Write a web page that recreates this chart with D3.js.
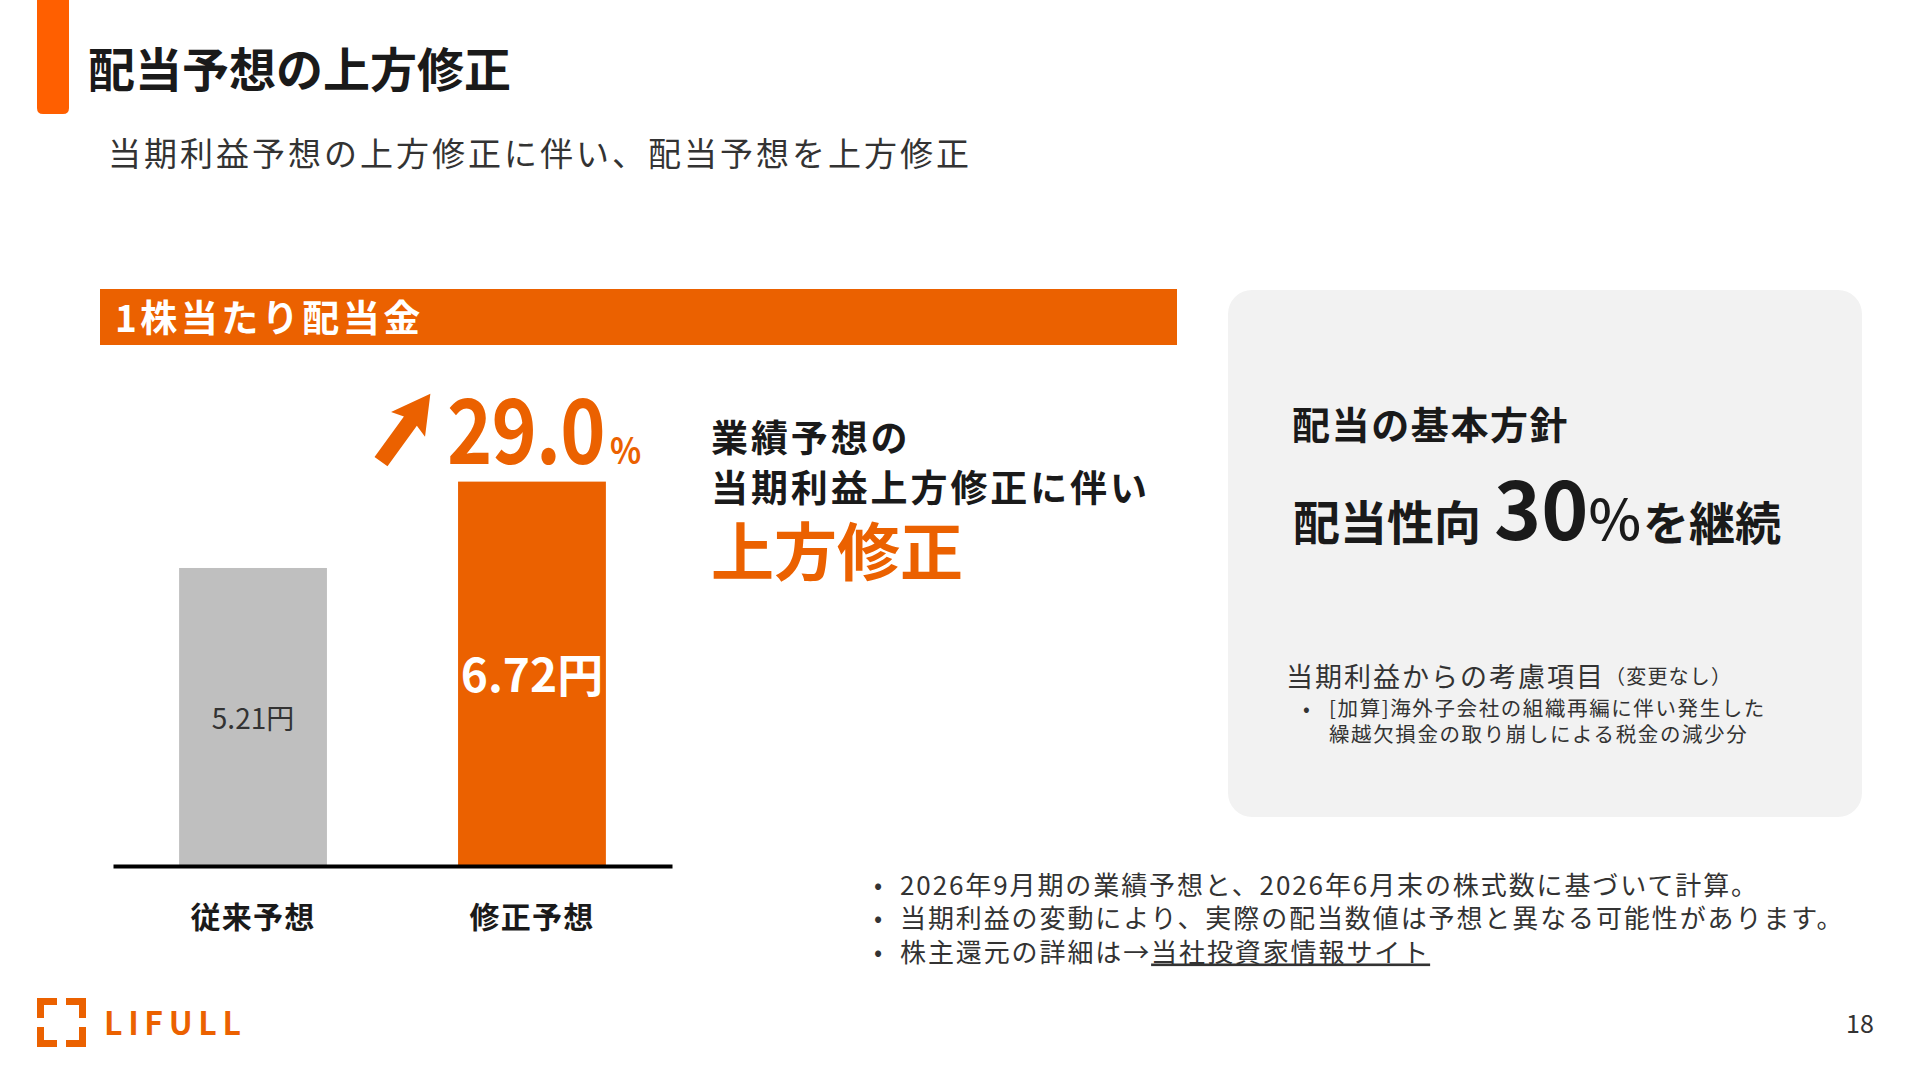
<!DOCTYPE html>
<html>
<head>
<meta charset="utf-8">
<script src="https://cdn.jsdelivr.net/npm/d3@7"></script>
<style>
  html, body { margin: 0; padding: 0; background: #fff; }
  svg { display: block; }
  text { font-family: "Noto Sans CJK JP", "Noto Sans", sans-serif; }
</style>
</head>
<body>
<script>
// ---------- data ----------
const categories = ["従来予想", "修正予想"];
const values = [5.21, 6.72];
const valueLabels = ["5.21円", "6.72円"];
const growthValue = "29.0";
const growthUnit = "%";
const payoutRatio = "30";

const titleText = "配当予想の上方修正";
const subtitleText = "当期利益予想の上方修正に伴い、配当予想を上方修正";
const panelTitle = "1株当たり配当金";
const reasonLines = ["業績予想の", "当期利益上方修正に伴い"];
const reasonEmph = "上方修正";
const policyTitle = "配当の基本方針";
const considerTitle = "当期利益からの考慮項目";
const considerNote = "（変更なし）";
const considerItems = ["[加算]海外子会社の組織再編に伴い発生した", "繰越欠損金の取り崩しによる税金の減少分"];
const notes = [
  "2026年9月期の業績予想と、2026年6月末の株式数に基づいて計算。",
  "当期利益の変動により、実際の配当数値は予想と異なる可能性があります。"
];
const linkPrefix = "株主還元の詳細は→";
const linkText = "当社投資家情報サイト";
const pageNo = "18";

// ---------- styles ----------
const ORANGE = "#EB6100";
const GRAY_BAR = "#BFBFBF";
const DARK = "#1a1a1a";
const TEXT = "#333333";

const svg = d3.select("body").append("svg")
  .attr("width", 1920).attr("height", 1080);

// title accent
svg.append("path")
  .attr("d", "M37,0 H69 V108 Q69,114 63,114 H43 Q37,114 37,108 Z")
  .attr("fill", "#FF5F00");

svg.append("text").attr("x", 88).attr("y", 66)
  .attr("dominant-baseline", "central")
  .attr("font-size", 47).attr("font-weight", 700).attr("fill", DARK)
  .text(titleText);

svg.append("text").attr("x", 108).attr("y", 152)
  .attr("dominant-baseline", "central")
  .attr("font-size", 33).attr("font-weight", 400).attr("fill", TEXT)
  .attr("letter-spacing", 3.0)
  .text(subtitleText);

// panel header
svg.append("rect").attr("x", 100).attr("y", 289).attr("width", 1077).attr("height", 56)
  .attr("fill", ORANGE);
svg.append("text").attr("x", 115).attr("y", 316)
  .attr("dominant-baseline", "central")
  .attr("font-size", 37).attr("font-weight", 700).attr("fill", "#fff")
  .attr("letter-spacing", 3.5)
  .text(panelTitle);

// ---------- chart ----------
const x = d3.scaleBand().domain(categories).range([113, 672])
  .paddingInner(0.47).paddingOuter(0.237);
const y = d3.scaleLinear().domain([0, 7]).range([866, 465.6]);

const barColors = [GRAY_BAR, ORANGE];
svg.append("g").selectAll("rect").data(values).join("rect")
  .attr("x", (d, i) => x(categories[i]))
  .attr("y", d => y(d))
  .attr("width", x.bandwidth())
  .attr("height", d => y(0) - y(d))
  .attr("fill", (d, i) => barColors[i]);

// baseline axis
const xAxis = d3.axisBottom(x).tickSize(0).tickPadding(36);
const ax = svg.append("g").attr("transform", `translate(0,${y(0)})`).call(xAxis);
ax.select(".domain").attr("stroke", "#000").attr("stroke-width", 4);
ax.selectAll(".tick text")
  .attr("font-family", "Noto Sans CJK JP")
  .attr("font-size", 30).attr("font-weight", 700).attr("fill", DARK)
  .attr("letter-spacing", 1.2)
  .attr("dy", null).attr("y", 49).attr("dominant-baseline", "central");

// value labels
const labelStyles = [
  { size: 28, weight: 400, fill: "#333" },
  { size: 46, weight: 700, fill: "#fff" }
];
svg.append("g").selectAll("text").data(values).join("text")
  .attr("x", (d, i) => x(categories[i]) + x.bandwidth() / 2)
  .attr("y", (d, i) => i === 0 ? y(0) - (y(0) - y(d)) * 0.5 : y(d) + (y(0) - y(d)) * 0.495)
  .attr("text-anchor", "middle").attr("dominant-baseline", "central")
  .attr("font-size", (d, i) => labelStyles[i].size)
  .attr("font-weight", (d, i) => labelStyles[i].weight)
  .attr("fill", (d, i) => labelStyles[i].fill)
  .text((d, i) => valueLabels[i]);

// growth arrow + label
const topBar = y(values[1]);
const arrowG = svg.append("g")
  .attr("transform", `translate(381,${topBar - 20}) rotate(-54)`);
arrowG.append("path")
  .attr("d", "M0,-8 L50,-8 L46,-21 L84,0 L46,21 L50,8 L0,8 Z")
  .attr("fill", ORANGE);

const gNum = svg.append("g")
  .attr("transform", `translate(447,${topBar - 18}) scale(0.855,1)`);
gNum.append("text").attr("x", 0).attr("y", 0)
  .attr("fill", ORANGE).attr("font-weight", 700).attr("font-size", 90)
  .attr("letter-spacing", -1)
  .text(growthValue);
const gPct = svg.append("g")
  .attr("transform", `translate(610,${topBar - 18}) scale(0.9,1)`);
gPct.append("text").attr("x", 0).attr("y", 0)
  .attr("fill", ORANGE).attr("font-weight", 700).attr("font-size", 36)
  .text(growthUnit);

// reason text (one block)
const rt = svg.append("text").attr("font-weight", 700);
reasonLines.forEach((t, i) => {
  rt.append("tspan").attr("x", 711).attr("y", 436 + i * 50)
    .attr("dominant-baseline", "central")
    .attr("font-size", 37).attr("fill", DARK)
    .attr("letter-spacing", 2.9)
    .text(t);
});
rt.append("tspan").attr("x", 711).attr("y", 547)
  .attr("dominant-baseline", "central")
  .attr("font-size", 63).attr("fill", ORANGE)
  .text(reasonEmph);

// ---------- right box ----------
svg.append("rect").attr("x", 1228).attr("y", 290).attr("width", 634).attr("height", 527)
  .attr("rx", 24).attr("fill", "#F2F2F2");

svg.append("text").attr("x", 1292).attr("y", 422)
  .attr("dominant-baseline", "central")
  .attr("font-size", 38).attr("font-weight", 700).attr("fill", DARK)
  .attr("letter-spacing", 1.6)
  .text(policyTitle);

const pol = svg.append("text").attr("x", 1293).attr("y", 540)
  .attr("font-weight", 700).attr("fill", DARK);
pol.append("tspan").attr("font-size", 47).text("配当性向");
pol.append("tspan").attr("font-size", 80).attr("dx", 13).text(payoutRatio);
pol.append("tspan").attr("font-size", 56).attr("font-weight", 500).attr("dx", 0).text("%");
pol.append("tspan").attr("font-size", 46).attr("dx", 2).text("を継続");

// consideration block (one text)
const cb = svg.append("text").attr("fill", TEXT).attr("font-weight", 400);
cb.append("tspan").attr("x", 1286).attr("y", 675).attr("dominant-baseline", "central")
  .attr("font-size", 27).attr("letter-spacing", 2.0).text(considerTitle);
cb.append("tspan").attr("dominant-baseline", "central")
  .attr("font-size", 20).attr("letter-spacing", 1.2).text(considerNote);
cb.append("tspan").attr("x", 1303).attr("y", 707).attr("dominant-baseline", "central")
  .attr("font-size", 20).text("•");
considerItems.forEach((t, i) => {
  cb.append("tspan").attr("x", 1329).attr("y", 707 + i * 26)
    .attr("dominant-baseline", "central")
    .attr("font-size", 20.5).attr("letter-spacing", 1.6)
    .text(t);
});

// ---------- notes (one text) ----------
const noteYs = [883, 916, 950];
const nb = svg.append("text").attr("fill", TEXT);
noteYs.forEach((yy, i) => {
  nb.append("tspan").attr("x", 874).attr("y", yy)
    .attr("dominant-baseline", "central").attr("font-size", 24)
    .text("•");
  if (i < notes.length) {
    nb.append("tspan").attr("x", 900).attr("y", yy)
      .attr("dominant-baseline", "central").attr("font-size", 26)
      .attr("letter-spacing", 1.9)
      .text(notes[i]);
  } else {
    nb.append("tspan").attr("x", 900).attr("y", yy)
      .attr("dominant-baseline", "central").attr("font-size", 26)
      .attr("letter-spacing", 1.9)
      .text(linkPrefix);
    nb.append("tspan").attr("dominant-baseline", "central").attr("font-size", 26)
      .attr("letter-spacing", 1.9)
      .attr("text-decoration", "underline").text(linkText);
  }
});

svg.append("text").attr("x", 1860).attr("y", 1022)
  .attr("text-anchor", "middle").attr("dominant-baseline", "central")
  .attr("font-size", 25).attr("fill", TEXT)
  .attr("font-family", "Noto Sans CJK JP")
  .text(pageNo);

// ---------- logo ----------
const logo = svg.append("g").attr("fill", ORANGE);
const L = 37, T = 998, S = 49, W = 7, A = 20;
[
  [L, T, A, W], [L, T, W, A],
  [L + S - A, T, A, W], [L + S - W, T, W, A],
  [L, T + S - W, A, W], [L, T + S - A, W, A],
  [L + S - A, T + S - W, A, W], [L + S - W, T + S - A, W, A]
].forEach(r => logo.append("rect").attr("x", r[0]).attr("y", r[1]).attr("width", r[2]).attr("height", r[3]));
svg.append("text").attr("x", 104).attr("y", 1035)
  .attr("font-family", "Lato, 'Open Sans', sans-serif")
  .attr("font-size", 32).attr("font-weight", 700).attr("fill", ORANGE)
  .attr("textLength", 137).attr("lengthAdjust", "spacing")
  .text("LIFULL");
</script>
</body>
</html>
